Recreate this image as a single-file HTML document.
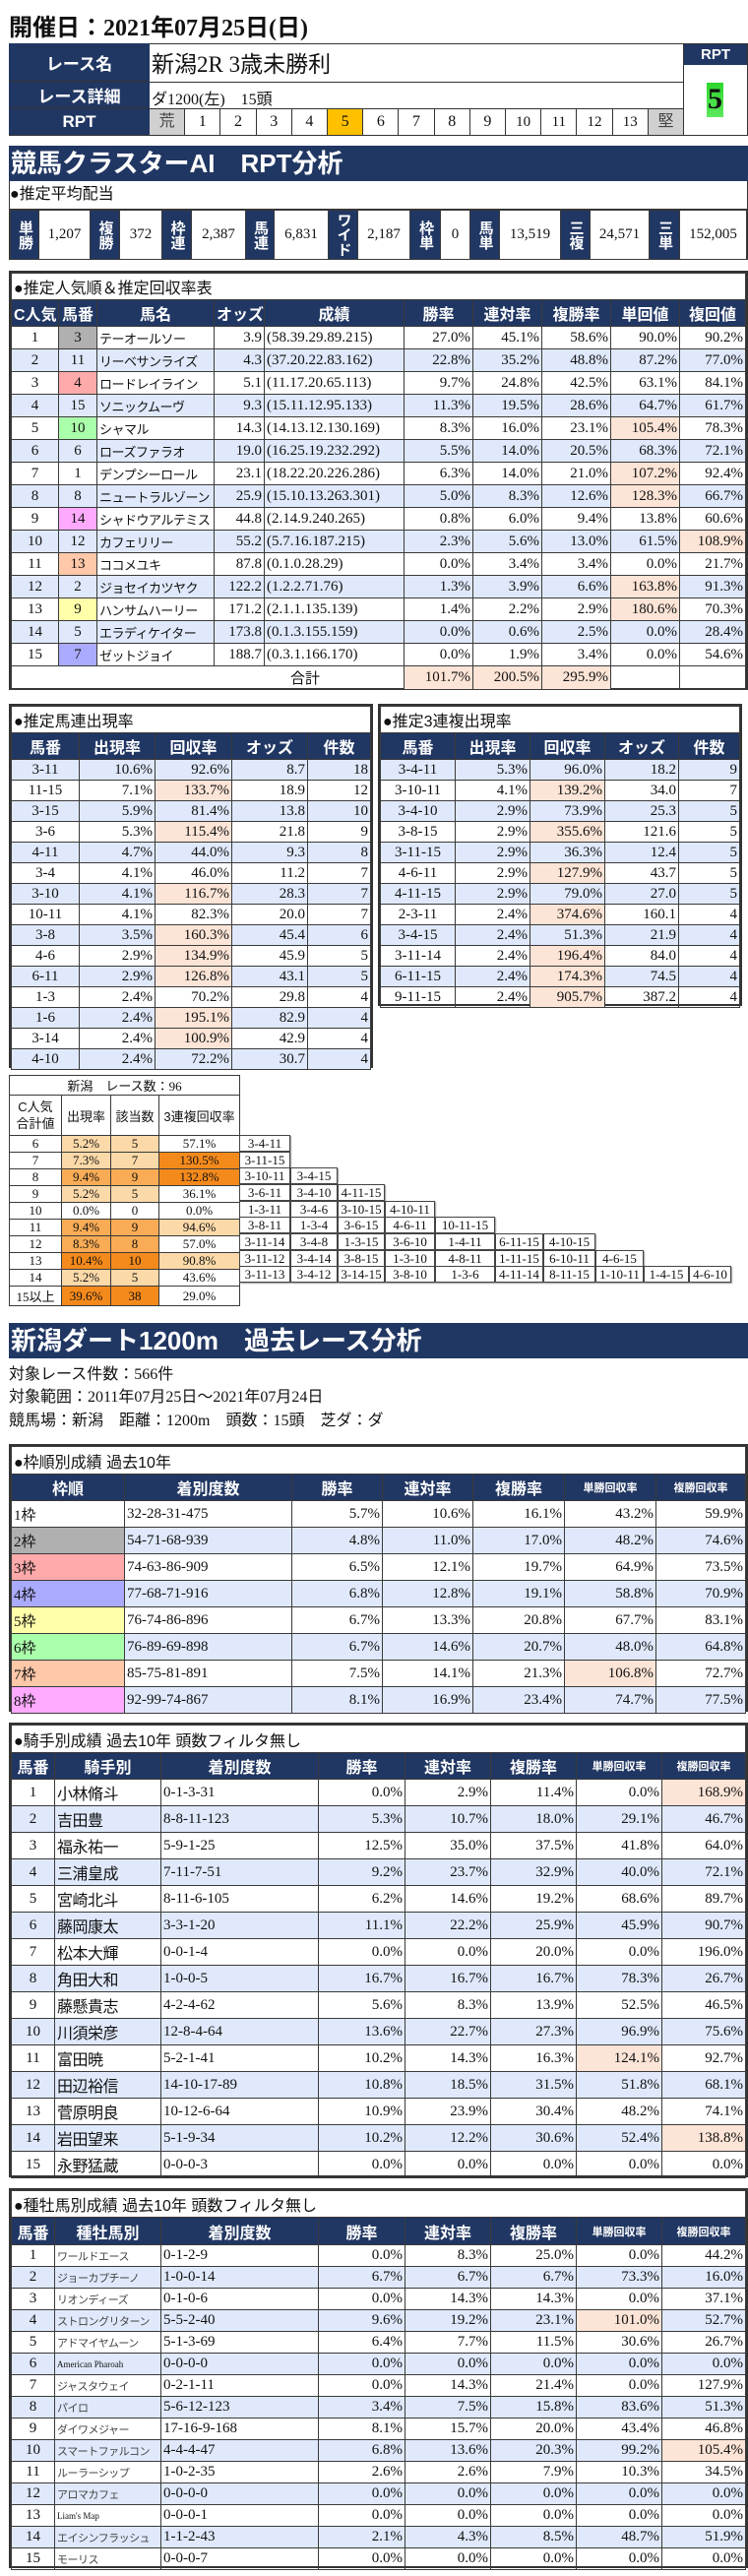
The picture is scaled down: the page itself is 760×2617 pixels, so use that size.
<!DOCTYPE html>
<html><head><meta charset="utf-8">
<style>
body{margin:0;width:760px;height:2617px;position:relative;background:#fff;font-family:"Liberation Serif","Noto Sans CJK JP",serif;color:#111;overflow:hidden}
.a{position:absolute}
table{border-collapse:collapse;table-layout:fixed;width:100%}
td,th{border:1px solid #3a3a3a;padding:0 2px;overflow:hidden;white-space:nowrap;font-size:15px;font-weight:normal}
th{background:#213763;color:#fff;font-family:"Liberation Sans","Noto Sans CJK JP",sans-serif;font-weight:bold;font-size:16px;text-align:center}
th.s{font-size:11px}
.box{border:2px solid #333;box-sizing:border-box}
.tt{font-family:"Liberation Sans","Noto Sans CJK JP",sans-serif;font-size:16px;text-align:left;background:#fff}
.r{text-align:right}.c{text-align:center}.l{text-align:left}
tr.b td{background:#dfe9fb}
td.p,tr.b td.p{background:#fce4d6}
.nv{background:#213763;color:#fff;font-family:"Liberation Sans","Noto Sans CJK JP",sans-serif;font-weight:bold;display:flex;align-items:center;justify-content:center}
.ban{background:#213763;color:#fff;font-family:"Liberation Sans","Noto Sans CJK JP",sans-serif;font-weight:bold;font-size:26px;line-height:36px;padding-left:2px;box-sizing:border-box}
.nm{font-size:13px;font-family:"Liberation Sans","Noto Sans CJK JP",sans-serif;letter-spacing:-0.5px}
.k2{background:#b0b0b0}.k3{background:#ffaaaa}.k4{background:#aaaaff}.k5{background:#ffffaa}.k6{background:#aaffaa}.k7{background:#ffc8a8}.k8{background:#ffaaff}
.o1{background:#fcd9a8}.o2{background:#f9ac55}.o3{background:#f58a1c}
.cb td{font-size:13px}
.cmb{position:absolute;border:1px solid #444;box-shadow:1px 1px 1px #999;font-size:13px;text-align:center;height:16px;line-height:16px;width:48px;background:#fff;box-sizing:border-box;height:17px}
.pv td{text-align:center;font-size:15px}
.pv td.h{background:#213763;color:#fff;font-family:"Liberation Sans","Noto Sans CJK JP",sans-serif;font-weight:bold;font-size:15px;writing-mode:vertical-rl;text-orientation:upright;line-height:16px;padding:0}
.txt{font-size:16px;font-family:"Liberation Serif","Noto Sans CJK JP",serif}
</style></head><body>

<div class="a" style="left:9px;top:8px;font-size:24px;font-weight:bold;font-family:'Liberation Serif','Noto Sans CJK JP',serif;">開催日：2021年07月25日(日)</div>

<div class="a" style="left:9px;top:44px;width:751px;height:94px;border:1px solid #333;box-sizing:border-box"></div>
<div class="a nv" style="left:9px;top:44px;width:143px;height:39px;font-size:17px;border-bottom:1px solid #333;box-sizing:border-box">レース名</div>
<div class="a nv" style="left:9px;top:83px;width:143px;height:27px;font-size:17px;border-bottom:1px solid #333;box-sizing:border-box">レース詳細</div>
<div class="a nv" style="left:9px;top:110px;width:143px;height:27px;font-size:17px">RPT</div>
<div class="a" style="left:154px;top:46px;font-size:23px;font-family:'Liberation Serif','Noto Sans CJK JP',serif">新潟2R 3歳未勝利</div>
<div class="a" style="left:152px;top:83px;width:542px;border-top:1px solid #333"></div>
<div class="a" style="left:154px;top:87px;font-size:16px">ダ1200(左)　15頭</div>
<div class="a" style="left:152px;top:110px;width:542px;height:27px;display:flex;border-top:1px solid #333;box-sizing:border-box">
<div style="flex:1;background:#d0d0d0;border-right:1px solid #333;text-align:center;line-height:26px;font-size:16px;color:#444">荒</div>
<div style="flex:1;border-right:1px solid #333;text-align:center;line-height:26px;font-size:16px">1</div>
<div style="flex:1;border-right:1px solid #333;text-align:center;line-height:26px;font-size:16px">2</div>
<div style="flex:1;border-right:1px solid #333;text-align:center;line-height:26px;font-size:16px">3</div>
<div style="flex:1;border-right:1px solid #333;text-align:center;line-height:26px;font-size:16px">4</div>
<div style="flex:1;background:#ffc000;border-right:1px solid #333;text-align:center;line-height:26px;font-size:16px">5</div>
<div style="flex:1;border-right:1px solid #333;text-align:center;line-height:26px;font-size:16px">6</div>
<div style="flex:1;border-right:1px solid #333;text-align:center;line-height:26px;font-size:16px">7</div>
<div style="flex:1;border-right:1px solid #333;text-align:center;line-height:26px;font-size:16px">8</div>
<div style="flex:1;border-right:1px solid #333;text-align:center;line-height:26px;font-size:16px">9</div>
<div style="flex:1;border-right:1px solid #333;text-align:center;line-height:26px;font-size:15px">10</div>
<div style="flex:1;border-right:1px solid #333;text-align:center;line-height:26px;font-size:15px">11</div>
<div style="flex:1;border-right:1px solid #333;text-align:center;line-height:26px;font-size:15px">12</div>
<div style="flex:1;border-right:1px solid #333;text-align:center;line-height:26px;font-size:15px">13</div>
<div style="flex:1;background:#d0d0d0;text-align:center;line-height:26px;font-size:16px;color:#444">堅</div>
</div>
<div class="a" style="left:694px;top:44px;width:1px;height:94px;background:#333"></div>
<div class="a nv" style="left:695px;top:45px;width:64px;height:21px;font-size:15px">RPT</div>
<div class="a" style="left:718px;top:84px;width:17px;height:35px;background:linear-gradient(#2cd62c,#5de85d);"></div>
<div class="a" style="left:714px;top:82px;width:25px;text-align:center;font-size:30px;font-weight:bold;line-height:38px">5</div>

<div class="a ban" style="left:9px;top:148px;width:751px;height:36px">競馬クラスターAI　RPT分析</div>

<div class="a" style="left:9px;top:184px;width:751px;height:80px;border:1px solid #333;border-top:none;box-sizing:border-box">
<div style="height:28px;line-height:28px;font-size:16px;border-bottom:1px solid #333;font-family:'Liberation Sans','Noto Sans CJK JP',sans-serif">●推定平均配当</div>
<table class="pv" style="height:51px"><colgroup><col style="width:29px"><col style="width:52px"><col style="width:30px"><col style="width:43px"><col style="width:30px"><col style="width:55px"><col style="width:29px"><col style="width:55px"><col style="width:30px"><col style="width:53px"><col style="width:31px"><col style="width:30px"><col style="width:30px"><col style="width:62px"><col style="width:30px"><col style="width:60px"><col style="width:31px"><col></colgroup>
<tr><td class="h">単勝</td><td>1,207</td><td class="h">複勝</td><td>372</td><td class="h">枠連</td><td>2,387</td><td class="h">馬連</td><td>6,831</td><td class="h">ワイド</td><td>2,187</td><td class="h">枠単</td><td>0</td><td class="h">馬単</td><td>13,519</td><td class="h">三複</td><td>24,571</td><td class="h">三単</td><td>152,005</td></tr></table>
</div>

<div class="a box" style="left:9px;top:275px;width:751px;height:426px">
<table><colgroup><col style="width:48px"><col style="width:39px"><col style="width:119px"><col style="width:51px"><col style="width:142px"><col style="width:70px"><col style="width:70px"><col style="width:70px"><col style="width:70px"><col></colgroup>
<tr style="height:27px"><td colspan="10" class="tt">●推定人気順＆推定回収率表</td></tr>
<tr style="height:27px"><th>C人気</th><th>馬番</th><th>馬名</th><th>オッズ</th><th>成績</th><th>勝率</th><th>連対率</th><th>複勝率</th><th>単回値</th><th>複回値</th></tr>
<tr style="height:23px"><td class="c">1</td><td class="c k2">3</td><td class="nm">テーオールソー</td><td class="r">3.9</td><td>(58.39.29.89.215)</td><td class="r">27.0%</td><td class="r">45.1%</td><td class="r">58.6%</td><td class="r">90.0%</td><td class="r">90.2%</td></tr>
<tr class="b" style="height:23px"><td class="c">2</td><td class="c k6">11</td><td class="nm">リーベサンライズ</td><td class="r">4.3</td><td>(37.20.22.83.162)</td><td class="r">22.8%</td><td class="r">35.2%</td><td class="r">48.8%</td><td class="r">87.2%</td><td class="r">77.0%</td></tr>
<tr style="height:23px"><td class="c">3</td><td class="c k3">4</td><td class="nm">ロードレイライン</td><td class="r">5.1</td><td>(11.17.20.65.113)</td><td class="r">9.7%</td><td class="r">24.8%</td><td class="r">42.5%</td><td class="r">63.1%</td><td class="r">84.1%</td></tr>
<tr class="b" style="height:23px"><td class="c">4</td><td class="c k8">15</td><td class="nm">ソニックムーヴ</td><td class="r">9.3</td><td>(15.11.12.95.133)</td><td class="r">11.3%</td><td class="r">19.5%</td><td class="r">28.6%</td><td class="r">64.7%</td><td class="r">61.7%</td></tr>
<tr style="height:23px"><td class="c">5</td><td class="c k6">10</td><td class="nm">シャマル</td><td class="r">14.3</td><td>(14.13.12.130.169)</td><td class="r">8.3%</td><td class="r">16.0%</td><td class="r">23.1%</td><td class="r p">105.4%</td><td class="r">78.3%</td></tr>
<tr class="b" style="height:23px"><td class="c">6</td><td class="c k4">6</td><td class="nm">ローズファラオ</td><td class="r">19.0</td><td>(16.25.19.232.292)</td><td class="r">5.5%</td><td class="r">14.0%</td><td class="r">20.5%</td><td class="r">68.3%</td><td class="r">72.1%</td></tr>
<tr style="height:23px"><td class="c">7</td><td class="c">1</td><td class="nm">デンプシーロール</td><td class="r">23.1</td><td>(18.22.20.226.286)</td><td class="r">6.3%</td><td class="r">14.0%</td><td class="r">21.0%</td><td class="r p">107.2%</td><td class="r">92.4%</td></tr>
<tr class="b" style="height:23px"><td class="c">8</td><td class="c k5">8</td><td class="nm">ニュートラルゾーン</td><td class="r">25.9</td><td>(15.10.13.263.301)</td><td class="r">5.0%</td><td class="r">8.3%</td><td class="r">12.6%</td><td class="r p">128.3%</td><td class="r">66.7%</td></tr>
<tr style="height:23px"><td class="c">9</td><td class="c k8">14</td><td class="nm">シャドウアルテミス</td><td class="r">44.8</td><td>(2.14.9.240.265)</td><td class="r">0.8%</td><td class="r">6.0%</td><td class="r">9.4%</td><td class="r">13.8%</td><td class="r">60.6%</td></tr>
<tr class="b" style="height:23px"><td class="c">10</td><td class="c k7">12</td><td class="nm">カフェリリー</td><td class="r">55.2</td><td>(5.7.16.187.215)</td><td class="r">2.3%</td><td class="r">5.6%</td><td class="r">13.0%</td><td class="r">61.5%</td><td class="r p">108.9%</td></tr>
<tr style="height:23px"><td class="c">11</td><td class="c k7">13</td><td class="nm">ココメユキ</td><td class="r">87.8</td><td>(0.1.0.28.29)</td><td class="r">0.0%</td><td class="r">3.4%</td><td class="r">3.4%</td><td class="r">0.0%</td><td class="r">21.7%</td></tr>
<tr class="b" style="height:23px"><td class="c">12</td><td class="c k2">2</td><td class="nm">ジョセイカツヤク</td><td class="r">122.2</td><td>(1.2.2.71.76)</td><td class="r">1.3%</td><td class="r">3.9%</td><td class="r">6.6%</td><td class="r p">163.8%</td><td class="r">91.3%</td></tr>
<tr style="height:23px"><td class="c">13</td><td class="c k5">9</td><td class="nm">ハンサムハーリー</td><td class="r">171.2</td><td>(2.1.1.135.139)</td><td class="r">1.4%</td><td class="r">2.2%</td><td class="r">2.9%</td><td class="r p">180.6%</td><td class="r">70.3%</td></tr>
<tr class="b" style="height:23px"><td class="c">14</td><td class="c k3">5</td><td class="nm">エラディケイター</td><td class="r">173.8</td><td>(0.1.3.155.159)</td><td class="r">0.0%</td><td class="r">0.6%</td><td class="r">2.5%</td><td class="r">0.0%</td><td class="r">28.4%</td></tr>
<tr style="height:23px"><td class="c">15</td><td class="c k4">7</td><td class="nm">ゼットジョイ</td><td class="r">188.7</td><td>(0.3.1.166.170)</td><td class="r">0.0%</td><td class="r">1.9%</td><td class="r">3.4%</td><td class="r">0.0%</td><td class="r">54.6%</td></tr>
<tr style="height:24px"><td colspan="5" class="c" style="padding-left:200px">合計</td><td class="r p">101.7%</td><td class="r p">200.5%</td><td class="r p">295.9%</td><td></td><td></td></tr>
</table></div>

<div class="a box" style="left:9px;top:715px;width:370px;height:370px">
<table><colgroup><col style="width:69px"><col style="width:77px"><col style="width:78px"><col style="width:77px"><col></colgroup>
<tr style="height:27px"><td colspan="5" class="tt">●推定馬連出現率</td></tr>
<tr style="height:27px"><th>馬番</th><th>出現率</th><th>回収率</th><th>オッズ</th><th>件数</th></tr>
<tr class="b" style="height:21px"><td class="c">3-11</td><td class="r">10.6%</td><td class="r">92.6%</td><td class="r">8.7</td><td class="r">18</td></tr>
<tr style="height:21px"><td class="c">11-15</td><td class="r">7.1%</td><td class="r p">133.7%</td><td class="r">18.9</td><td class="r">12</td></tr>
<tr class="b" style="height:21px"><td class="c">3-15</td><td class="r">5.9%</td><td class="r">81.4%</td><td class="r">13.8</td><td class="r">10</td></tr>
<tr style="height:21px"><td class="c">3-6</td><td class="r">5.3%</td><td class="r p">115.4%</td><td class="r">21.8</td><td class="r">9</td></tr>
<tr class="b" style="height:21px"><td class="c">4-11</td><td class="r">4.7%</td><td class="r">44.0%</td><td class="r">9.3</td><td class="r">8</td></tr>
<tr style="height:21px"><td class="c">3-4</td><td class="r">4.1%</td><td class="r">46.0%</td><td class="r">11.2</td><td class="r">7</td></tr>
<tr class="b" style="height:21px"><td class="c">3-10</td><td class="r">4.1%</td><td class="r p">116.7%</td><td class="r">28.3</td><td class="r">7</td></tr>
<tr style="height:21px"><td class="c">10-11</td><td class="r">4.1%</td><td class="r">82.3%</td><td class="r">20.0</td><td class="r">7</td></tr>
<tr class="b" style="height:21px"><td class="c">3-8</td><td class="r">3.5%</td><td class="r p">160.3%</td><td class="r">45.4</td><td class="r">6</td></tr>
<tr style="height:21px"><td class="c">4-6</td><td class="r">2.9%</td><td class="r p">134.9%</td><td class="r">45.9</td><td class="r">5</td></tr>
<tr class="b" style="height:21px"><td class="c">6-11</td><td class="r">2.9%</td><td class="r p">126.8%</td><td class="r">43.1</td><td class="r">5</td></tr>
<tr style="height:21px"><td class="c">1-3</td><td class="r">2.4%</td><td class="r">70.2%</td><td class="r">29.8</td><td class="r">4</td></tr>
<tr class="b" style="height:21px"><td class="c">1-6</td><td class="r">2.4%</td><td class="r p">195.1%</td><td class="r">82.9</td><td class="r">4</td></tr>
<tr style="height:21px"><td class="c">3-14</td><td class="r">2.4%</td><td class="r p">100.9%</td><td class="r">42.9</td><td class="r">4</td></tr>
<tr class="b" style="height:21px"><td class="c">4-10</td><td class="r">2.4%</td><td class="r">72.2%</td><td class="r">30.7</td><td class="r">4</td></tr>
</table></div>

<div class="a box" style="left:384px;top:715px;width:370px;height:307px">
<table><colgroup><col style="width:76px"><col style="width:76px"><col style="width:76px"><col style="width:75px"><col></colgroup>
<tr style="height:27px"><td colspan="5" class="tt">●推定3連複出現率</td></tr>
<tr style="height:27px"><th>馬番</th><th>出現率</th><th>回収率</th><th>オッズ</th><th>件数</th></tr>
<tr class="b" style="height:21px"><td class="c">3-4-11</td><td class="r">5.3%</td><td class="r">96.0%</td><td class="r">18.2</td><td class="r">9</td></tr>
<tr style="height:21px"><td class="c">3-10-11</td><td class="r">4.1%</td><td class="r p">139.2%</td><td class="r">34.0</td><td class="r">7</td></tr>
<tr class="b" style="height:21px"><td class="c">3-4-10</td><td class="r">2.9%</td><td class="r">73.9%</td><td class="r">25.3</td><td class="r">5</td></tr>
<tr style="height:21px"><td class="c">3-8-15</td><td class="r">2.9%</td><td class="r p">355.6%</td><td class="r">121.6</td><td class="r">5</td></tr>
<tr class="b" style="height:21px"><td class="c">3-11-15</td><td class="r">2.9%</td><td class="r">36.3%</td><td class="r">12.4</td><td class="r">5</td></tr>
<tr style="height:21px"><td class="c">4-6-11</td><td class="r">2.9%</td><td class="r p">127.9%</td><td class="r">43.7</td><td class="r">5</td></tr>
<tr class="b" style="height:21px"><td class="c">4-11-15</td><td class="r">2.9%</td><td class="r">79.0%</td><td class="r">27.0</td><td class="r">5</td></tr>
<tr style="height:21px"><td class="c">2-3-11</td><td class="r">2.4%</td><td class="r p">374.6%</td><td class="r">160.1</td><td class="r">4</td></tr>
<tr class="b" style="height:21px"><td class="c">3-4-15</td><td class="r">2.4%</td><td class="r">51.3%</td><td class="r">21.9</td><td class="r">4</td></tr>
<tr style="height:21px"><td class="c">3-11-14</td><td class="r">2.4%</td><td class="r p">196.4%</td><td class="r">84.0</td><td class="r">4</td></tr>
<tr class="b" style="height:21px"><td class="c">6-11-15</td><td class="r">2.4%</td><td class="r p">174.3%</td><td class="r">74.5</td><td class="r">4</td></tr>
<tr style="height:21px"><td class="c">9-11-15</td><td class="r">2.4%</td><td class="r p">905.7%</td><td class="r">387.2</td><td class="r">4</td></tr>
</table></div>

<div class="a cb" style="left:9px;top:1092px;width:235px">
<table style="border:1px solid #555"><colgroup><col style="width:53px"><col style="width:50px"><col style="width:49px"><col></colgroup>
<tr style="height:20px"><td colspan="4" class="c">新潟　レース数：96</td></tr>
<tr style="height:41px"><td class="c" style="white-space:normal;font-family:'Liberation Sans','Noto Sans CJK JP',sans-serif;line-height:17px">C人気合計値</td><td class="c" style="font-family:'Liberation Sans','Noto Sans CJK JP',sans-serif">出現率</td><td class="c" style="font-family:'Liberation Sans','Noto Sans CJK JP',sans-serif">該当数</td><td class="c" style="font-family:'Liberation Sans','Noto Sans CJK JP',sans-serif">3連複回収率</td></tr>
<tr style="height:16.7px"><td class="c">6</td><td class="c o1">5.2%</td><td class="c o1">5</td><td class="c">57.1%</td></tr>
<tr style="height:16.7px"><td class="c">7</td><td class="c o1">7.3%</td><td class="c o1">7</td><td class="c o3">130.5%</td></tr>
<tr style="height:16.7px"><td class="c">8</td><td class="c o2">9.4%</td><td class="c o2">9</td><td class="c o3">132.8%</td></tr>
<tr style="height:16.7px"><td class="c">9</td><td class="c o1">5.2%</td><td class="c o1">5</td><td class="c">36.1%</td></tr>
<tr style="height:16.7px"><td class="c">10</td><td class="c">0.0%</td><td class="c">0</td><td class="c">0.0%</td></tr>
<tr style="height:16.7px"><td class="c">11</td><td class="c o2">9.4%</td><td class="c o2">9</td><td class="c o1">94.6%</td></tr>
<tr style="height:16.7px"><td class="c">12</td><td class="c o2">8.3%</td><td class="c o2">8</td><td class="c">57.0%</td></tr>
<tr style="height:16.7px"><td class="c">13</td><td class="c o3">10.4%</td><td class="c o3">10</td><td class="c o1">90.8%</td></tr>
<tr style="height:16.7px"><td class="c">14</td><td class="c o1">5.2%</td><td class="c o1">5</td><td class="c">43.6%</td></tr>
<tr style="height:16.7px"><td class="c">15以上</td><td class="c o3">39.6%</td><td class="c o3">38</td><td class="c">29.0%</td></tr>
</table></div>
<div class="cmb" style="left:243px;top:1153px;width:52px">3-4-11</div>
<div class="cmb" style="left:243px;top:1170px;width:52px">3-11-15</div>
<div class="cmb" style="left:243px;top:1186px;width:52px">3-10-11</div><div class="cmb" style="left:295px;top:1186px">3-4-15</div>
<div class="cmb" style="left:243px;top:1203px;width:52px">3-6-11</div><div class="cmb" style="left:295px;top:1203px">3-4-10</div><div class="cmb" style="left:343px;top:1203px">4-11-15</div>
<div class="cmb" style="left:243px;top:1220px;width:52px">1-3-11</div><div class="cmb" style="left:295px;top:1220px">3-4-6</div><div class="cmb" style="left:343px;top:1220px">3-10-15</div><div class="cmb" style="left:391px;top:1220px;width:51px">4-10-11</div>
<div class="cmb" style="left:243px;top:1236px;width:52px">3-8-11</div><div class="cmb" style="left:295px;top:1236px">1-3-4</div><div class="cmb" style="left:343px;top:1236px">3-6-15</div><div class="cmb" style="left:391px;top:1236px;width:51px">4-6-11</div><div class="cmb" style="left:442px;top:1236px;width:61px">10-11-15</div>
<div class="cmb" style="left:243px;top:1253px;width:52px">3-11-14</div><div class="cmb" style="left:295px;top:1253px">3-4-8</div><div class="cmb" style="left:343px;top:1253px">1-3-15</div><div class="cmb" style="left:391px;top:1253px;width:51px">3-6-10</div><div class="cmb" style="left:442px;top:1253px;width:61px">1-4-11</div><div class="cmb" style="left:503px;top:1253px;width:49px">6-11-15</div><div class="cmb" style="left:552px;top:1253px;width:53px">4-10-15</div>
<div class="cmb" style="left:243px;top:1270px;width:52px">3-11-12</div><div class="cmb" style="left:295px;top:1270px">3-4-14</div><div class="cmb" style="left:343px;top:1270px">3-8-15</div><div class="cmb" style="left:391px;top:1270px;width:51px">1-3-10</div><div class="cmb" style="left:442px;top:1270px;width:61px">4-8-11</div><div class="cmb" style="left:503px;top:1270px;width:49px">1-11-15</div><div class="cmb" style="left:552px;top:1270px;width:53px">6-10-11</div><div class="cmb" style="left:605px;top:1270px;width:49px">4-6-15</div>
<div class="cmb" style="left:243px;top:1286px;width:52px">3-11-13</div><div class="cmb" style="left:295px;top:1286px">3-4-12</div><div class="cmb" style="left:343px;top:1286px">3-14-15</div><div class="cmb" style="left:391px;top:1286px;width:51px">3-8-10</div><div class="cmb" style="left:442px;top:1286px;width:61px">1-3-6</div><div class="cmb" style="left:503px;top:1286px;width:49px">4-11-14</div><div class="cmb" style="left:552px;top:1286px;width:53px">8-11-15</div><div class="cmb" style="left:605px;top:1286px;width:49px">1-10-11</div><div class="cmb" style="left:654px;top:1286px;width:46px">1-4-15</div><div class="cmb" style="left:700px;top:1286px;width:43px">4-6-10</div>

<div class="a ban" style="left:9px;top:1344px;width:751px;height:36px">新潟ダート1200m　過去レース分析</div>
<div class="a txt" style="left:9px;top:1382px">対象レース件数：566件</div>
<div class="a txt" style="left:9px;top:1405px">対象範囲：2011年07月25日～2021年07月24日</div>
<div class="a txt" style="left:9px;top:1429px">競馬場：新潟　距離：1200m　頭数：15頭　芝ダ：ダ</div>

<div class="a box" style="left:9px;top:1467px;width:751px;height:272px">
<table><colgroup><col style="width:115px"><col style="width:170px"><col style="width:92px"><col style="width:92px"><col style="width:93px"><col style="width:93px"><col></colgroup>
<tr style="height:28px"><td colspan="7" class="tt">●枠順別成績 過去10年</td></tr>
<tr style="height:27px"><th>枠順</th><th>着別度数</th><th>勝率</th><th>連対率</th><th>複勝率</th><th class="s">単勝回収率</th><th class="s">複勝回収率</th></tr>
<tr style="height:27px"><td>1枠</td><td>32-28-31-475</td><td class="r">5.7%</td><td class="r">10.6%</td><td class="r">16.1%</td><td class="r">43.2%</td><td class="r">59.9%</td></tr>
<tr class="b" style="height:27px"><td style="background:#b0b0b0">2枠</td><td>54-71-68-939</td><td class="r">4.8%</td><td class="r">11.0%</td><td class="r">17.0%</td><td class="r">48.2%</td><td class="r">74.6%</td></tr>
<tr style="height:27px"><td class="k3">3枠</td><td>74-63-86-909</td><td class="r">6.5%</td><td class="r">12.1%</td><td class="r">19.7%</td><td class="r">64.9%</td><td class="r">73.5%</td></tr>
<tr class="b" style="height:27px"><td style="background:#aaaaff">4枠</td><td>77-68-71-916</td><td class="r">6.8%</td><td class="r">12.8%</td><td class="r">19.1%</td><td class="r">58.8%</td><td class="r">70.9%</td></tr>
<tr style="height:27px"><td class="k5">5枠</td><td>76-74-86-896</td><td class="r">6.7%</td><td class="r">13.3%</td><td class="r">20.8%</td><td class="r">67.7%</td><td class="r">83.1%</td></tr>
<tr class="b" style="height:27px"><td style="background:#aaffaa">6枠</td><td>76-89-69-898</td><td class="r">6.7%</td><td class="r">14.6%</td><td class="r">20.7%</td><td class="r">48.0%</td><td class="r">64.8%</td></tr>
<tr style="height:27px"><td class="k7">7枠</td><td>85-75-81-891</td><td class="r">7.5%</td><td class="r">14.1%</td><td class="r">21.3%</td><td class="r p">106.8%</td><td class="r">72.7%</td></tr>
<tr class="b" style="height:27px"><td style="background:#ffaaff">8枠</td><td>92-99-74-867</td><td class="r">8.1%</td><td class="r">16.9%</td><td class="r">23.4%</td><td class="r">74.7%</td><td class="r">77.5%</td></tr>
</table></div>

<div class="a box" style="left:9px;top:1750px;width:751px;height:462px">
<table><colgroup><col style="width:44px"><col style="width:108px"><col style="width:160px"><col style="width:88px"><col style="width:87px"><col style="width:87px"><col style="width:87px"><col></colgroup>
<tr style="height:28px"><td colspan="8" class="tt">●騎手別成績 過去10年 頭数フィルタ無し</td></tr>
<tr style="height:27px"><th>馬番</th><th>騎手別</th><th>着別度数</th><th>勝率</th><th>連対率</th><th>複勝率</th><th class="s">単勝回収率</th><th class="s">複勝回収率</th></tr>
<tr style="height:27px"><td class="c">1</td><td class="nm" style="font-size:16px">小林脩斗</td><td>0-1-3-31</td><td class="r">0.0%</td><td class="r">2.9%</td><td class="r">11.4%</td><td class="r">0.0%</td><td class="r p">168.9%</td></tr>
<tr class="b" style="height:27px"><td class="c">2</td><td class="nm" style="font-size:16px">吉田豊</td><td>8-8-11-123</td><td class="r">5.3%</td><td class="r">10.7%</td><td class="r">18.0%</td><td class="r">29.1%</td><td class="r">46.7%</td></tr>
<tr style="height:27px"><td class="c">3</td><td class="nm" style="font-size:16px">福永祐一</td><td>5-9-1-25</td><td class="r">12.5%</td><td class="r">35.0%</td><td class="r">37.5%</td><td class="r">41.8%</td><td class="r">64.0%</td></tr>
<tr class="b" style="height:27px"><td class="c">4</td><td class="nm" style="font-size:16px">三浦皇成</td><td>7-11-7-51</td><td class="r">9.2%</td><td class="r">23.7%</td><td class="r">32.9%</td><td class="r">40.0%</td><td class="r">72.1%</td></tr>
<tr style="height:27px"><td class="c">5</td><td class="nm" style="font-size:16px">宮崎北斗</td><td>8-11-6-105</td><td class="r">6.2%</td><td class="r">14.6%</td><td class="r">19.2%</td><td class="r">68.6%</td><td class="r">89.7%</td></tr>
<tr class="b" style="height:27px"><td class="c">6</td><td class="nm" style="font-size:16px">藤岡康太</td><td>3-3-1-20</td><td class="r">11.1%</td><td class="r">22.2%</td><td class="r">25.9%</td><td class="r">45.9%</td><td class="r">90.7%</td></tr>
<tr style="height:27px"><td class="c">7</td><td class="nm" style="font-size:16px">松本大輝</td><td>0-0-1-4</td><td class="r">0.0%</td><td class="r">0.0%</td><td class="r">20.0%</td><td class="r">0.0%</td><td class="r">196.0%</td></tr>
<tr class="b" style="height:27px"><td class="c">8</td><td class="nm" style="font-size:16px">角田大和</td><td>1-0-0-5</td><td class="r">16.7%</td><td class="r">16.7%</td><td class="r">16.7%</td><td class="r">78.3%</td><td class="r">26.7%</td></tr>
<tr style="height:27px"><td class="c">9</td><td class="nm" style="font-size:16px">藤懸貴志</td><td>4-2-4-62</td><td class="r">5.6%</td><td class="r">8.3%</td><td class="r">13.9%</td><td class="r">52.5%</td><td class="r">46.5%</td></tr>
<tr class="b" style="height:27px"><td class="c">10</td><td class="nm" style="font-size:16px">川須栄彦</td><td>12-8-4-64</td><td class="r">13.6%</td><td class="r">22.7%</td><td class="r">27.3%</td><td class="r">96.9%</td><td class="r">75.6%</td></tr>
<tr style="height:27px"><td class="c">11</td><td class="nm" style="font-size:16px">富田暁</td><td>5-2-1-41</td><td class="r">10.2%</td><td class="r">14.3%</td><td class="r">16.3%</td><td class="r p">124.1%</td><td class="r">92.7%</td></tr>
<tr class="b" style="height:27px"><td class="c">12</td><td class="nm" style="font-size:16px">田辺裕信</td><td>14-10-17-89</td><td class="r">10.8%</td><td class="r">18.5%</td><td class="r">31.5%</td><td class="r">51.8%</td><td class="r">68.1%</td></tr>
<tr style="height:27px"><td class="c">13</td><td class="nm" style="font-size:16px">菅原明良</td><td>10-12-6-64</td><td class="r">10.9%</td><td class="r">23.9%</td><td class="r">30.4%</td><td class="r">48.2%</td><td class="r">74.1%</td></tr>
<tr class="b" style="height:27px"><td class="c">14</td><td class="nm" style="font-size:16px">岩田望来</td><td>5-1-9-34</td><td class="r">10.2%</td><td class="r">12.2%</td><td class="r">30.6%</td><td class="r">52.4%</td><td class="r p">138.8%</td></tr>
<tr style="height:27px"><td class="c">15</td><td class="nm" style="font-size:16px">永野猛蔵</td><td>0-0-0-3</td><td class="r">0.0%</td><td class="r">0.0%</td><td class="r">0.0%</td><td class="r">0.0%</td><td class="r">0.0%</td></tr>
</table></div>

<div class="a box" style="left:9px;top:2223px;width:751px;height:386px">
<table><colgroup><col style="width:44px"><col style="width:108px"><col style="width:160px"><col style="width:88px"><col style="width:87px"><col style="width:87px"><col style="width:87px"><col></colgroup>
<tr style="height:27px"><td colspan="8" class="tt">●種牡馬別成績 過去10年 頭数フィルタ無し</td></tr>
<tr style="height:28px"><th>馬番</th><th>種牡馬別</th><th>着別度数</th><th>勝率</th><th>連対率</th><th>複勝率</th><th class="s">単勝回収率</th><th class="s">複勝回収率</th></tr>
<tr style="height:22px"><td class="c">1</td><td class="nm" style="font-size:11px;color:#444">ワールドエース</td><td>0-1-2-9</td><td class="r">0.0%</td><td class="r">8.3%</td><td class="r">25.0%</td><td class="r">0.0%</td><td class="r">44.2%</td></tr>
<tr class="b" style="height:22px"><td class="c">2</td><td class="nm" style="font-size:11px;color:#444">ジョーカプチーノ</td><td>1-0-0-14</td><td class="r">6.7%</td><td class="r">6.7%</td><td class="r">6.7%</td><td class="r">73.3%</td><td class="r">16.0%</td></tr>
<tr style="height:22px"><td class="c">3</td><td class="nm" style="font-size:11px;color:#444">リオンディーズ</td><td>0-1-0-6</td><td class="r">0.0%</td><td class="r">14.3%</td><td class="r">14.3%</td><td class="r">0.0%</td><td class="r">37.1%</td></tr>
<tr class="b" style="height:22px"><td class="c">4</td><td class="nm" style="font-size:11px;color:#444">ストロングリターン</td><td>5-5-2-40</td><td class="r">9.6%</td><td class="r">19.2%</td><td class="r">23.1%</td><td class="r p">101.0%</td><td class="r">52.7%</td></tr>
<tr style="height:22px"><td class="c">5</td><td class="nm" style="font-size:11px;color:#444">アドマイヤムーン</td><td>5-1-3-69</td><td class="r">6.4%</td><td class="r">7.7%</td><td class="r">11.5%</td><td class="r">30.6%</td><td class="r">26.7%</td></tr>
<tr class="b" style="height:22px"><td class="c">6</td><td style="font-size:9px">American Pharoah</td><td>0-0-0-0</td><td class="r">0.0%</td><td class="r">0.0%</td><td class="r">0.0%</td><td class="r">0.0%</td><td class="r">0.0%</td></tr>
<tr style="height:22px"><td class="c">7</td><td class="nm" style="font-size:11px;color:#444">ジャスタウェイ</td><td>0-2-1-11</td><td class="r">0.0%</td><td class="r">14.3%</td><td class="r">21.4%</td><td class="r">0.0%</td><td class="r">127.9%</td></tr>
<tr class="b" style="height:22px"><td class="c">8</td><td class="nm" style="font-size:11px;color:#444">パイロ</td><td>5-6-12-123</td><td class="r">3.4%</td><td class="r">7.5%</td><td class="r">15.8%</td><td class="r">83.6%</td><td class="r">51.3%</td></tr>
<tr style="height:22px"><td class="c">9</td><td class="nm" style="font-size:11px;color:#444">ダイワメジャー</td><td>17-16-9-168</td><td class="r">8.1%</td><td class="r">15.7%</td><td class="r">20.0%</td><td class="r">43.4%</td><td class="r">46.8%</td></tr>
<tr class="b" style="height:22px"><td class="c">10</td><td class="nm" style="font-size:11px;color:#444">スマートファルコン</td><td>4-4-4-47</td><td class="r">6.8%</td><td class="r">13.6%</td><td class="r">20.3%</td><td class="r">99.2%</td><td class="r p">105.4%</td></tr>
<tr style="height:22px"><td class="c">11</td><td class="nm" style="font-size:11px;color:#444">ルーラーシップ</td><td>1-0-2-35</td><td class="r">2.6%</td><td class="r">2.6%</td><td class="r">7.9%</td><td class="r">10.3%</td><td class="r">34.5%</td></tr>
<tr class="b" style="height:22px"><td class="c">12</td><td class="nm" style="font-size:11px;color:#444">アロマカフェ</td><td>0-0-0-0</td><td class="r">0.0%</td><td class="r">0.0%</td><td class="r">0.0%</td><td class="r">0.0%</td><td class="r">0.0%</td></tr>
<tr style="height:22px"><td class="c">13</td><td style="font-size:9px">Liam's Map</td><td>0-0-0-1</td><td class="r">0.0%</td><td class="r">0.0%</td><td class="r">0.0%</td><td class="r">0.0%</td><td class="r">0.0%</td></tr>
<tr class="b" style="height:22px"><td class="c">14</td><td class="nm" style="font-size:11px;color:#444">エイシンフラッシュ</td><td>1-1-2-43</td><td class="r">2.1%</td><td class="r">4.3%</td><td class="r">8.5%</td><td class="r">48.7%</td><td class="r">51.9%</td></tr>
<tr style="height:22px"><td class="c">15</td><td class="nm" style="font-size:11px;color:#444">モーリス</td><td>0-0-0-7</td><td class="r">0.0%</td><td class="r">0.0%</td><td class="r">0.0%</td><td class="r">0.0%</td><td class="r">0.0%</td></tr>
</table></div>

</body></html>
